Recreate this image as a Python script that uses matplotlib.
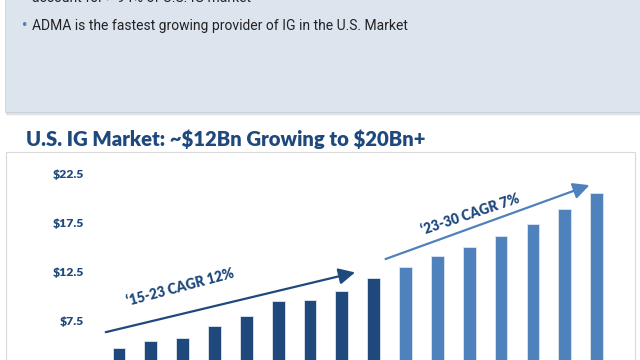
import matplotlib
matplotlib.use('Agg')
import matplotlib.pyplot as plt
from matplotlib.patches import Rectangle

years = list(range(2015, 2031))
market = [4.8, 5.5, 5.8, 7.0, 8.0, 9.5, 9.6, 10.5, 11.9,
          13.0, 14.1, 15.0, 16.1, 17.4, 18.9, 20.5]
yticks = [7.5, 12.5, 17.5, 22.5]
ytick_labels = [r'\$7.5', r'\$12.5', r'\$17.5', r'\$22.5']
hist_cagr = "\u201815-23 CAGR 12%"
proj_cagr = "\u201823-30 CAGR 7%"

dark = '#1F497D'
light = '#4F81BD'
W, H = 640, 360

fig = plt.figure(figsize=(6.4, 3.6), dpi=100)

def fx(px):
    return px / W

def fy(py):
    return 1 - py / H

# top info box (cropped) with a soft shadow
for i, a in enumerate([0.25, 0.15, 0.08]):
    fig.patches.append(Rectangle((fx(6), fy(113 + i * 1.5)), 1, 3 / H,
                                 transform=fig.transFigure, color='#7f7f7f',
                                 alpha=a, lw=0, zorder=0))
fig.patches.append(Rectangle((fx(5), fy(112)), 1, 112 / H + 0.01,
                             transform=fig.transFigure, facecolor='#DCE4EE',
                             edgecolor='#c9d2dc', lw=0.6, zorder=1))
fig.text(fx(32), fy(-2), 'account for > 94% of U.S. IG market', fontsize=10,
         family='Roboto', color='#222222', va='center', zorder=2)
fig.text(fx(20), fy(26), '\u2022', fontsize=9, color=light, va='center', zorder=2)
fig.text(fx(32), fy(26), 'ADMA is the fastest growing provider of IG in the U.S. Market',
         fontsize=10, family='Roboto', color='#222222', va='center', zorder=2)

# title
fig.text(fx(26), fy(139), r'U.S. IG Market: ~\$12Bn Growing to \$20Bn+', fontsize=14.6,
         family='Lato', weight='heavy', color=dark, va='center')

# chart frame
fig.patches.append(Rectangle((fx(6), fy(400)), fx(629), 248 / H,
                             transform=fig.transFigure, facecolor='white',
                             edgecolor='#d9d9d9', lw=0.8, zorder=0))

ax = fig.add_axes([fx(90), fy(394.8), fx(540), 234.8 / H])
ax.set_zorder(3)
idx = list(range(len(years)))
colors = [dark if y <= 2023 else light for y in years]
ax.bar(idx, market, width=0.4, color=colors, edgecolor='#dfe7f1', linewidth=0.6)
ax.set_xlim(-0.91, 16.05)
ax.set_ylim(0, 23.86)
ax.set_yticks(yticks)
ax.set_yticklabels(ytick_labels, family='Lato', weight='heavy', fontsize=8.8, color=dark)
ax.tick_params(axis='y', length=0, pad=4)
ax.set_xticks([])
for s in ax.spines.values():
    s.set_visible(False)
ax.patch.set_alpha(0)

ax.annotate('', xy=(7.5, 12.5), xytext=(-0.5, 6.3),
            arrowprops=dict(arrowstyle='-|>,head_length=0.7,head_width=0.35',
                            color=dark, lw=1.6, mutation_scale=14))
ax.text(1.92, 10.96, hist_cagr, rotation=15, rotation_mode='anchor', ha='center',
        va='center', family='Lato', weight='heavy', fontsize=9.8, color=dark)
ax.annotate('', xy=(14.86, 21.4), xytext=(8.29, 13.7),
            arrowprops=dict(arrowstyle='-|>,head_length=0.7,head_width=0.35',
                            color=light, lw=1.6, mutation_scale=14))
ax.text(11.03, 18.37, proj_cagr, rotation=18.5, rotation_mode='anchor', ha='center',
        va='center', family='Lato', weight='heavy', fontsize=9.8, color=dark)

fig.savefig('out.png', dpi=100)
